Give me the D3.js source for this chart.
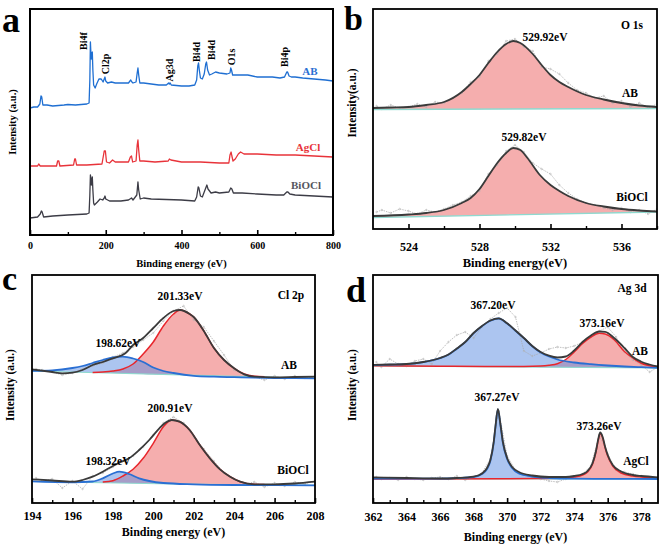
<!DOCTYPE html>
<html><head><meta charset="utf-8">
<script src="https://cdn.jsdelivr.net/npm/d3@7"></script>
<style>
body{margin:0;background:#fff}
svg{display:block}
text{font-family:"Liberation Serif","Times New Roman",serif;font-weight:bold}
</style>
</head><body>
<svg id="chart" width="661" height="545"></svg>
<script>
// ================= DATA =================
// Panel a: survey spectra [binding energy eV, intensity a.u.]
const surveyAB = [[0,127],[10,128],[20,128],[26,131],[29,139],[31,138],[34,130],[45,130],[60,129],[90,130],[100,130.5],[120,130],[150,131],[156,132],[158,155],[159.5,193],[161,180],[162,176],[163,182],[164.5,183],[166,165],[168,150],[172,147],[176,151],[182,156],[188,156],[193,153],[196,156],[198,158],[200,154],[205,152],[215,153],[225,152],[240,152],[260,152],[266,155],[269,153],[272,152],[280,153],[283,162],[285,167],[287,160],[290,152],[300,152],[320,151],[340,150],[360,150],[366,152],[368,151],[370,152],[373,150],[400,149],[420,149],[435,150],[440,155],[443,169],[445,172],[447,165],[450,157],[455,156],[460,161],[464,171],[466,173],[469,165],[474,160],[480,161],[490,163],[500,162],[520,161],[528,162],[530,167],[532,165],[535,160],[550,160],[560,160],[575,160],[600,158],[640,158],[660,157],[672,158],[678,163],[680,163],[684,159],[690,158],[700,158],[720,157],[750,156],[780,155],[800,154]];
const surveyAgCl = [[0,69],[20,69],[23,71],[27,69],[70,69],[73,74],[76,74],[79,69],[115,70],[118,76],[120,76],[123,70],[150,70],[190,71],[196,84],[199,84],[202,73],[210,72],[218,75],[225,73],[260,73],[265,78],[268,79],[271,73],[280,74],[283,90],[285,95],[287,85],[290,74],[300,74],[330,73],[365,74],[368,76],[372,75],[400,73],[450,73],[500,72],[525,72],[528,80],[531,83],[533,79],[536,74],[542,76],[550,81],[556,83],[565,81],[600,81],[650,80],[700,80],[750,79],[800,78]];
const surveyBiOCl = [[0,17],[20,18],[27,21],[30,24],[32,23],[36,18],[60,19],[100,20],[150,21],[156,22],[158,40],[159.5,60],[161,56],[162,50],[163,53],[164.5,58],[166,45],[168,32],[170,30],[178,33],[185,36],[192,35],[196,37],[198,39],[200,36],[210,34],[240,34],[260,35],[268,37],[272,35],[282,40],[285,53],[287,45],[291,36],[300,37],[320,36],[400,35],[435,34],[440,38],[444,48],[446,47],[450,39],[455,38],[462,45],[467,50],[470,46],[478,42],[490,43],[500,42],[525,43],[530,47],[533,46],[537,42],[560,42],[600,41],[650,40],[670,40],[678,43],[681,43],[686,41],[700,40],[750,39],[800,38]];
const surveyLabels = ["Bi4f","Cl2p","Ag3d","Bi4d","Bi4d","O1s","Bi4p"];
const surveyLabelEnergy = [141,200,369,440,479,532,673];
const surveyTicks = [0,200,400,600,800];
const surveyMinor = [100,300,500,700];

// Panel b: O 1s
const o1sAB = [[522,121],[523,121.5],[524,122],[525,124],[526,127],[527,137],[527.5,145],[528,154],[528.5,166],[529,177],[529.5,185],[529.9,188],[530.3,186],[531,175],[531.5,164],[532,154],[532.5,147],[533,142],[534,134],[535,129.5],[536,126],[537,123.5],[538,122]];
const o1sABBase = [[522,119.5],[538,120.5]];
const o1sABRaw = [[522.2,123],[522.5,120],[523,124],[523.5,121],[524,122],[524.5,125],[525,122],[525.5,127],[526,126],[526.5,131],[527,136],[527.5,147],[528,152],[528.5,168],[529,175],[529.5,188],[530,190],[530.5,182],[531,178],[531.5,162],[532,160],[532.5,155],[533,146],[533.5,139],[534,136],[534.5,131],[535,133],[535.5,126],[536,128],[536.5,122],[537,126],[537.5,121],[538,125]];
const o1sBiOCl = [[522,13],[524,14.5],[525,16],[526,19],[527,26],[527.5,31],[528,40],[528.5,53],[529,66],[529.5,76],[529.9,81],[530.3,79],[530.7,71],[531.4,54],[532,44],[532.5,38],[533,33],[534,26],[535,22.5],[536,20],[537,18.5],[538,17.5]];
const o1sBiOClBase = [[522,11.5],[538,17]];
const o1sBiOClRaw = [[522.2,17],[522.5,19],[523,16],[523.5,20],[524,18],[524.5,15],[525,19],[525.5,17],[526,20],[526.5,24],[527,27],[527.5,33],[528,38],[528.5,55],[529,64],[529.5,78],[530,84],[530.5,77],[531,66],[531.5,60],[532,55],[532.5,44],[533,36],[533.5,30],[534,26],[534.5,24],[535,21],[535.5,19],[536,21],[536.5,17],[537,19],[537.5,15],[538,20]];
const o1sTicks = [524,528,532,536];
const o1sMinor = [526,530,534,538];

// Panel c: Cl 2p
const cl2pABEnv = [[194,133.7],[195,131],[195.5,129.7],[196,130.3],[196.5,133],[197,138],[197.5,141],[198,144.7],[198.62,149.7],[199,158],[199.5,165],[200,175],[200.5,185],[201,192],[201.33,193],[201.8,189],[202,186],[202.5,172],[203,155],[203.5,143],[204,134.7],[204.5,128.7],[205,126.3],[206,125.7],[207,126],[208,126.3]];
const cl2pABRed = [[197,130.5],[197.5,131],[198,132],[198.5,134],[199,139],[199.5,149],[200,161],[200.5,177],[201,189],[201.33,193],[201.8,189],[202,186],[202.5,172],[203,155],[203.5,143],[204,134.7],[204.5,129],[205,126.8],[205.5,126.2]];
const cl2pABBlue = [[194,132.2],[195,132.7],[196,135],[196.5,137],[197,140],[197.5,143],[198,145.5],[198.5,146.3],[199,144.5],[199.5,141],[200,135.5],[200.5,132],[201,130],[202,127.2],[203,126.3],[204,125.8],[205,125.3],[206,125],[207,124.8],[208,124.6]];
const cl2pABBase = [[194,132],[208,124.6]];
const cl2pABRaw = [[194.2,134],[194.5,133],[195,131],[195.5,128],[196,130],[196.5,134],[197,137],[197.5,140],[198,146],[198.5,150],[199,156],[199.5,163],[200,170],[200.5,182],[201,192],[201.5,197],[202,183],[202.5,176],[203,162],[203.5,148],[204,133],[204.5,128],[205,126],[205.5,123],[206,127],[206.5,124],[207,127],[207.5,125],[208,126]];
const cl2pBiEnv = [[194,23.7],[195,22.5],[196,21.3],[196.5,23],[197,26.3],[197.5,31.3],[198,37],[198.32,40.3],[198.8,44.7],[199.3,53],[199.8,63],[200.3,74.7],[200.6,80.3],[200.91,83],[201.3,81.3],[201.8,73],[202.3,58],[202.8,44.7],[203.3,33.7],[203.8,26.3],[204.3,21.3],[205,18.7],[206,18.7],[207,19.5],[208,21.3]];
const cl2pBiRed = [[197.5,21],[198,22.3],[198.5,27],[199,33.7],[199.5,44.7],[200,59.7],[200.5,76.3],[200.91,83],[201.3,81.3],[201.8,73],[202.3,58],[202.8,44.7],[203.3,33.7],[203.8,26.3],[204.3,21.3],[205,18.7],[205.5,18.4]];
const cl2pBiBlue = [[194,21.6],[196,20.7],[197,21.5],[197.5,24.7],[198,29.5],[198.32,31.3],[198.8,29],[199.3,24.7],[199.8,22],[200.5,20],[202,18.7],[204,18],[206,17.8],[208,17.7]];
const cl2pBiBase = [[194,21.5],[201,19],[208,17.7]];
const cl2pBiRaw = [[194.2,25],[194.5,22],[195,24],[195.5,15],[196,22],[196.5,14],[197,27],[197.5,30],[198,36],[198.5,42],[199,47],[199.5,56],[200,68],[200.5,80],[201,86],[201.5,80],[202,66],[202.5,54],[203,42],[203.5,30],[204,24],[204.5,19],[205,21],[205.5,16],[206,20],[206.5,17],[207,21],[207.5,19],[208,22]];
const cl2pTicks = [194,196,198,200,202,204,206,208];
const cl2pMinor = [195,197,199,201,203,205,207];

// Panel d: Ag 3d
const ag3dABEnv = [[362,138],[363,138.5],[364,139],[365,141],[366,145],[366.5,148.5],[367,154.5],[367.5,161],[368,170],[368.5,177],[369,182.5],[369.5,184.7],[370,179.7],[370.5,172.5],[371,165],[371.5,157],[372,151],[372.5,147.3],[373,145.5],[373.5,146.5],[374,152.5],[374.5,161],[375,167.5],[375.5,171.5],[375.85,171.2],[376.4,164.7],[377,155],[377.5,146],[378,141.3],[378.5,138.5],[379,136.5]];
const ag3dABBlue = [[362,137.8],[363,138.3],[364,138.8],[365,140.8],[366,144.8],[366.5,148.3],[367,154.3],[367.5,160.8],[368,169.8],[368.5,176.8],[369,182.3],[369.5,184.5],[370,179.5],[370.5,172.3],[371,164.8],[371.5,156.8],[372,150.6],[372.5,146.5],[373,143.5],[374,140.5],[375,138.8],[376,137.5],[377,136.5],[378,135.8],[379,135.2]];
const ag3dABRed = [[362,137.2],[366,136.8],[369,136.4],[371,136.5],[372,137],[372.5,137.8],[373,139.3],[373.5,143.5],[374,151],[374.5,159.5],[375,166],[375.5,169.7],[375.85,169],[376.4,163],[377,151.5],[377.5,145],[378,139.7],[378.5,137.3],[379,136]];
const ag3dABBase = [[362,137],[379,135]];
const ag3dABRaw = [[362.2,141],[362.5,136],[363,144],[363.5,139],[364,137],[364.5,142],[365,144],[365.5,139],[366,152],[366.5,161],[367,168],[367.5,171],[368,165],[368.5,176],[369,184],[369.5,190],[370,195],[370.5,186],[371,152],[371.5,147],[372,150],[372.5,154],[373,156],[373.5,155],[374,157],[374.5,161],[375,166],[375.5,172],[376,176],[376.5,166],[377,151],[377.5,143],[378,138],[378.5,131],[379,136]];
const ag3dAgEnv = [[362,25.7],[364,25],[366,24.5],[367,25],[368,26.3],[368.5,29.5],[368.8,35],[369,43],[369.2,61],[369.3,76],[369.45,94],[369.6,79],[369.75,61],[370,45],[370.3,36],[370.7,31],[371.5,27.5],[372.5,26],[373.5,26],[374,27],[374.5,29],[374.8,32],[375.1,40],[375.3,52],[375.45,65],[375.55,70.5],[375.7,66],[375.85,56],[376,48],[376.3,38],[376.8,31.5],[377.5,28],[378,27],[379,25.7]];
const ag3dAgBlue = [[362,24.3],[366,24.3],[367,24.8],[368,26],[368.5,29],[368.8,34],[369,42],[369.2,60],[369.3,75],[369.45,93.5],[369.6,78],[369.75,60],[370,44],[370.3,35],[370.7,29.5],[371.5,26.5],[372.5,25],[374,24.3],[376,24.1],[379,24]];
const ag3dAgRed = [[362,24.1],[370,24.2],[372,24.5],[373.5,25],[374,26],[374.5,28],[374.8,31],[375.1,39],[375.3,51],[375.45,64],[375.55,69.5],[375.7,65],[375.85,55],[376,47],[376.3,37],[376.8,30],[377.5,27],[378,26],[379,25]];
const ag3dAgBase = [[362,24],[379,24]];
const ag3dAgRaw = [[362.2,26],[362.5,24],[363,25],[363.5,23],[364,26],[364.5,24],[365,23],[365.5,25],[366,26],[366.5,24],[367,27],[367.5,23],[368,26],[368.5,30],[369,44],[369.5,92],[370,47],[370.5,33],[371,28],[371.5,26],[372,24],[372.5,22],[373,21],[373.5,24],[374,26],[374.5,29],[375,37],[375.5,68],[376,49],[376.5,33],[377,31],[377.5,29],[378,27],[378.5,25],[379,26]];
const ag3dTicks = [362,364,366,368,370,372,374,376,378];
const ag3dMinor = [363,365,367,369,371,373,375,377];

// ================= DRAWING =================
const svg = d3.select("#chart");
const C = {
  env:"#3a3a3a", red:"#e8262c", blue:"#2a6fd3",
  redFill:"rgba(238,120,120,0.6)", blueFill:"rgba(90,140,225,0.5)",
  base:"#8fd9cf", raw:"#a8a8a8",
  surveyAB:"#1f6fd2", surveyAgCl:"#e8333a", surveyBiOCl:"#3c3c46"
};
let clipN = 0;
function panel(o){
  const x = d3.scaleLinear().domain(o.xd).range([o.l,o.r]);
  const y = d3.scaleLinear().domain(o.yd).range([o.b,o.t]);
  const g = svg.append("g");
  const id = "clip"+(clipN++);
  svg.append("clipPath").attr("id",id).append("rect")
    .attr("x",o.l).attr("y",o.t).attr("width",o.r-o.l).attr("height",o.b-o.t);
  const plot = g.append("g").attr("clip-path",`url(#${id})`);
  return {x,y,g,plot,o};
}
function interp(arr,xv){
  if (xv<=arr[0][0]) return arr[0][1];
  for (let i=1;i<arr.length;i++){
    if (xv<=arr[i][0]){
      const t=(xv-arr[i-1][0])/(arr[i][0]-arr[i-1][0]);
      return arr[i-1][1]+t*(arr[i][1]-arr[i-1][1]);
    }
  }
  return arr[arr.length-1][1];
}
function drawLine(p,data,color,w,curve){
  p.plot.append("path").datum(data)
    .attr("fill","none").attr("stroke",color).attr("stroke-width",w)
    .attr("stroke-linejoin","round")
    .attr("d",d3.line().x(d=>p.x(d[0])).y(d=>p.y(d[1])).curve(curve||d3.curveMonotoneX));
}
function drawFill(p,data,base,color){
  p.plot.append("path").datum(data)
    .attr("fill",color).attr("stroke","none")
    .attr("d",d3.area().x(d=>p.x(d[0])).y0(d=>p.y(interp(base,d[0]))).y1(d=>p.y(d[1])).curve(d3.curveMonotoneX));
}
function drawRaw(p,data){
  p.plot.append("path").datum(data)
    .attr("fill","none").attr("stroke",C.raw).attr("stroke-width",0.7)
    .attr("stroke-dasharray","1.5,1")
    .attr("d",d3.line().x(d=>p.x(d[0])).y(d=>p.y(d[1])).curve(d3.curveLinear));
  p.plot.selectAll(null).data(data).enter().append("circle")
    .attr("cx",d=>p.x(d[0])).attr("cy",d=>p.y(d[1])).attr("r",0.8)
    .attr("fill","none").attr("stroke","#b0b0b0").attr("stroke-width",0.5);
}
function axes(p,major,minor,labelY,fs,title,titleY,titleFs,yTitle,yTitleX,yTitleY,yTitleFs,frameW){
  const o=p.o;
  const ax = p.g.append("g").attr("transform",`translate(0,${o.b})`)
    .call(d3.axisBottom(p.x).tickValues(major).tickSize(-5).tickFormat(d3.format("d")));
  ax.select(".domain").remove();
  ax.selectAll(".tick line").attr("stroke","#000").attr("stroke-width",1.6);
  ax.selectAll(".tick text").attr("y",labelY-o.b).attr("dy","0.35em")
    .attr("font-size",fs).attr("fill","#000")
    .attr("font-family","'Liberation Serif','Times New Roman',serif").attr("font-weight","bold");
  const mx = p.g.append("g").attr("transform",`translate(0,${o.b})`)
    .call(d3.axisBottom(p.x).tickValues(minor).tickSize(-3).tickFormat(""));
  mx.select(".domain").remove();
  mx.selectAll(".tick line").attr("stroke","#000").attr("stroke-width",1.4);
  p.g.append("rect").attr("x",o.l).attr("y",o.t).attr("width",o.r-o.l).attr("height",o.b-o.t)
    .attr("fill","none").attr("stroke","#000").attr("stroke-width",frameW||1.8);
  p.g.append("text").attr("x",(o.l+o.r)/2).attr("y",titleY).attr("dy","0.35em")
    .attr("text-anchor","middle").attr("font-size",titleFs).text(title);
  p.g.append("text").attr("transform",`translate(${yTitleX},${yTitleY}) rotate(-90)`)
    .attr("dy","0.35em").attr("text-anchor","middle").attr("font-size",yTitleFs).text(yTitle);
}
function label(p,txt,x,y,fs,color){
  p.g.append("text").attr("x",x).attr("y",y).attr("dy","0.35em")
    .attr("text-anchor","middle").attr("font-size",fs).attr("fill",color||"#000").text(txt);
}
function letter(txt,x,y,fs,family){
  svg.append("text").attr("x",x).attr("y",y).attr("font-size",fs)
    .attr("font-family",family).attr("font-weight","bold").attr("fill","#000").text(txt);
}

// ---- Panel a ----
const pa = panel({l:30,r:333,t:9,b:235,xd:[0,800],yd:[0,226]});
drawLine(pa,surveyBiOCl,C.surveyBiOCl,1.3,d3.curveLinear);
drawLine(pa,surveyAgCl,C.surveyAgCl,1.3,d3.curveLinear);
drawLine(pa,surveyAB,C.surveyAB,1.3,d3.curveLinear);
axes(pa,surveyTicks,surveyMinor,245,10,"Binding energy (eV)",263,10.5,"Intensity (a.u.)",12,122,10.5,2);
const annY = [41,64,70,52,50,57,57];
surveyLabels.forEach((t,i)=>{
  pa.g.append("text").attr("transform",`translate(${pa.x(surveyLabelEnergy[i])},${annY[i]}) rotate(-90)`)
    .attr("dy","0.35em").attr("text-anchor","middle").attr("font-size",10).text(t);
});
label(pa,"AB",310,71,11,"#2a6fd3");
label(pa,"AgCl",308,147,11,"#e8333a");
label(pa,"BiOCl",306,185,11,"#555560");

// ---- Panel b ----
const pb = panel({l:373,r:657,t:9,b:229,xd:[522,538],yd:[0,220]});
drawFill(pb,o1sAB,o1sABBase,C.redFill);
drawFill(pb,o1sBiOCl,o1sBiOClBase,C.redFill);
drawRaw(pb,o1sABRaw);
drawRaw(pb,o1sBiOClRaw);
drawLine(pb,o1sABBase,C.base,1.3,d3.curveLinear);
drawLine(pb,o1sBiOClBase,C.base,1.3,d3.curveLinear);
drawLine(pb,o1sAB,C.env,1.8);
drawLine(pb,o1sBiOCl,C.env,1.8);
axes(pb,o1sTicks,o1sMinor,247,12,"Binding energy(eV)",263,12.5,"Intensity(a.u.)",352,103,11.5);
label(pb,"529.92eV",545,37,11.5);
label(pb,"529.82eV",524,137,11.5);
label(pb,"O 1s",632,25,11.5);
label(pb,"AB",630,93,11.5);
label(pb,"BiOCl",632,197,11.5);

// ---- Panel c ----
const pc = panel({l:32,r:315,t:275,b:503,xd:[194,208],yd:[0,228]});
drawFill(pc,cl2pABRed,cl2pABBase,C.redFill);
drawFill(pc,cl2pABBlue,cl2pABBase,C.blueFill);
drawFill(pc,cl2pBiRed,cl2pBiBase,C.redFill);
drawFill(pc,cl2pBiBlue,cl2pBiBase,C.blueFill);
drawRaw(pc,cl2pABRaw);
drawRaw(pc,cl2pBiRaw);
drawLine(pc,cl2pABBase,C.base,1.2,d3.curveLinear);
drawLine(pc,cl2pBiBase,C.base,1.2,d3.curveLinear);
drawLine(pc,cl2pABRed,C.red,1.5);
drawLine(pc,cl2pABBlue,C.blue,1.8);
drawLine(pc,cl2pBiRed,C.red,1.5);
drawLine(pc,cl2pBiBlue,C.blue,1.8);
drawLine(pc,cl2pABEnv,C.env,1.8);
drawLine(pc,cl2pBiEnv,C.env,1.8);
axes(pc,cl2pTicks,cl2pMinor,516,12,"Binding energy (eV)",532,12,"Intensity (a.u.)",10,385,11.5);
label(pc,"201.33eV",180,296,11.5);
label(pc,"198.62eV",118,343,11.5);
label(pc,"Cl 2p",291,295,11.5);
label(pc,"AB",289,365,11.5);
label(pc,"200.91eV",170,408,11.5);
label(pc,"198.32eV",108,461,11.5);
label(pc,"BiOCl",293,470,11.5);

// ---- Panel d ----
const pd = panel({l:373,r:658,t:275,b:503,xd:[362,379],yd:[0,228]});
drawFill(pd,ag3dABRed,ag3dABBase,C.redFill);
drawFill(pd,ag3dABBlue,ag3dABBase,C.blueFill);
drawFill(pd,ag3dAgRed,ag3dAgBase,C.redFill);
drawFill(pd,ag3dAgBlue,ag3dAgBase,C.blueFill);
drawRaw(pd,ag3dABRaw);
drawRaw(pd,ag3dAgRaw);
drawLine(pd,ag3dABBase,C.base,1.2,d3.curveLinear);
drawLine(pd,ag3dAgBase,C.base,1.2,d3.curveLinear);
drawLine(pd,ag3dABRed,C.red,1.5);
drawLine(pd,ag3dABBlue,C.blue,1.8);
drawLine(pd,ag3dAgRed,C.red,1.5);
drawLine(pd,ag3dAgBlue,C.blue,1.8);
drawLine(pd,ag3dABEnv,C.env,1.8);
drawLine(pd,ag3dAgEnv,C.env,1.8);
axes(pd,ag3dTicks,ag3dMinor,517,12,"Binding energy (eV)",537,12,"Intensity (a.u.)",352,385,11.5);
label(pd,"367.20eV",493,305,11.5);
label(pd,"373.16eV",602,323,11.5);
label(pd,"Ag 3d",632,288,11.5);
label(pd,"AB",640,351,11.5);
label(pd,"367.27eV",497,397,11.5);
label(pd,"373.26eV",599,426,11.5);
label(pd,"AgCl",636,461,11.5);

// panel letters
letter("a",2,32,36,"'Liberation Sans',Arial,sans-serif");
letter("b",344,30,34,"'Liberation Serif','Times New Roman',serif");
letter("c",2,290,34,"'Liberation Serif','Times New Roman',serif");
letter("d",346,302,36,"'Liberation Serif','Times New Roman',serif");
</script>
</body></html>
